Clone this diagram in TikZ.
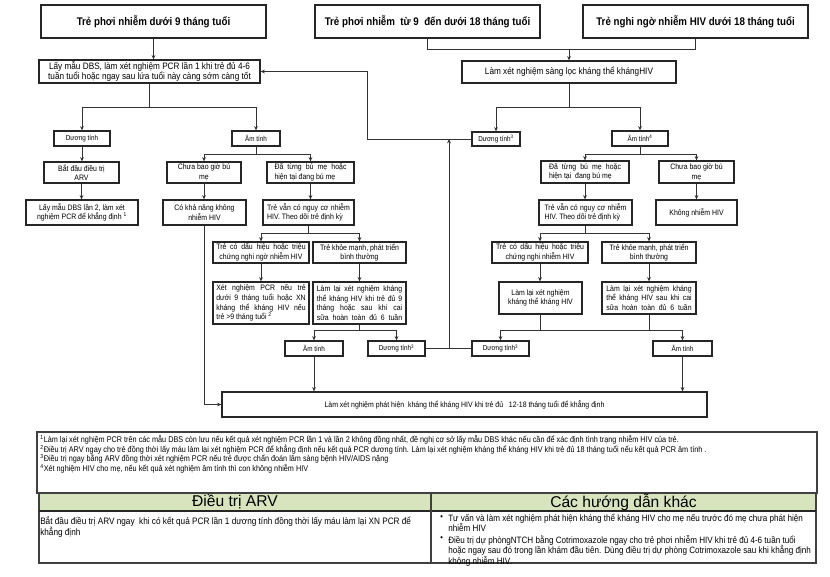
\documentclass[tikz,border=0pt]{standalone}
\usepackage{fontspec}
\setmainfont{Liberation Sans}
\newfontfamily\nf[FakeStretch=0.88]{Liberation Sans}
\usetikzlibrary{arrows.meta}
\newcommand\sm{\nf\fontsize{5.9pt}{7.3pt}\selectfont}
\newcommand\fsm{\nf\fontsize{6.2pt}{7.5pt}\selectfont}
\newcommand\bnode[7][]{\node[box,#1,minimum width={(#5-#3)*0.75pt},minimum height={(#6-#4)*0.75pt}] (#2) at ({(#3+#5)/2},{(#4+#6)/2}) {#7};}
\newcommand\sx[1]{\textsuperscript{#1}}
\tikzset{
  box/.style={draw=black!85, line width=0.95pt, inner sep=0.5pt, align=center, font=\sm, text=black},
  lbox/.style={box, align=left},
  lab/.style={box, font=\nf\fontsize{5.4pt}{6.5pt}\selectfont},
  big/.style={box, font=\nf\fontsize{7pt}{8pt}\selectfont},
  tbox/.style={box, line width=1.3pt, font=\nf\bfseries\fontsize{8.3pt}{10pt}\selectfont},
  ln/.style={draw=black!80, line width=0.75pt},
  arr/.style={ln, -{Stealth[length=3.2pt,width=2.8pt]}},
  fnote/.style={anchor=west, inner sep=0pt, font=\fsm, text=black},
  tabtxt/.style={anchor=west, inner sep=0pt, text=black, align=left},
  hdr/.style={inner sep=0pt, font=\fontsize{11.7pt}{14pt}\selectfont, text=black},
}
\begin{document}
\begin{tikzpicture}[x=0.75pt,y=-0.75pt]
\useasboundingbox (0,0) rectangle (830,576);
\fill[white] (0,0) rectangle (830,576);

% ---------- title boxes ----------
\bnode[tbox]{t1}{41}{5}{266}{38}{Trẻ phơi nhiễm dưới 9 tháng tuổi}
\bnode[tbox]{t2}{315}{5}{540}{38}{Trẻ phơi nhiễm\ \ từ 9\ \ đến dưới 18 tháng tuổi}
\bnode[tbox]{t3}{583}{5}{808}{38}{Trẻ nghi ngờ nhiễm HIV dưới 18 tháng tuổi}

% ---------- left branch ----------
\bnode[big]{dbs}{39}{60}{260}{83}{Lấy mẫu DBS, làm xét nghiệm PCR lần 1 khi trẻ đủ 4-6\\tuần tuổi hoặc ngay sau lứa tuổi này càng sớm càng tốt}
\bnode[lab]{pos1}{54}{131}{110}{146}{Dương tính}
\bnode[lab]{neg1}{232}{131}{280}{146}{Âm tính}
\bnode{start1}{44}{162}{119}{183}{Bắt đầu điều trị\\ARV}
\bnode{dbs2}{26}{200}{138}{225}{Lấy mẫu DBS lần 2, làm xét\\nghiệm PCR để khẳng định \sx{1}}
\bnode{never1}{167}{162}{241}{183}{Chưa bao giờ bú\\mẹ}
\bnode[lbox]{ever1}{267}{162}{354}{183}{\makebox[54pt][s]{Đã từng bú mẹ hoặc}\\hiện tại đang bú mẹ}
\bnode{likely1}{163}{200}{246}{225}{Có khả năng không\\nhiễm HIV}
\bnode[lbox]{risk1}{263}{200}{354}{225}{\makebox[62pt][s]{Trẻ vẫn có nguy cơ nhiễm}\\HIV. Theo dõi trẻ định kỳ}
\bnode{sym1}{213}{242}{309}{263}{\makebox[67pt][s]{Trẻ có dấu hiệu hoặc triệu}\\chứng nghi ngờ nhiễm HIV}
\bnode{healthy1}{313}{242}{406}{263}{Trẻ khỏe mạnh, phát triển\\bình thường}
\bnode{pcr1}{213}{282}{309}{324}{\makebox[67pt][s]{Xét nghiệm PCR nếu trẻ}\\\makebox[67pt][s]{dưới 9 tháng tuổi hoặc XN}\\\makebox[67pt][s]{kháng thể kháng HIV nếu}\\\makebox[67pt][l]{trẻ >9 tháng tuổi \sx{2}}}
\bnode{retest1}{313}{282}{406}{324}{\makebox[64pt][s]{Làm lại xét nghiệm kháng}\\\makebox[64pt][s]{thể kháng HIV khi trẻ đủ 9}\\\makebox[64pt][s]{tháng hoặc sau khi cai}\\\makebox[64pt][s]{sữa hoàn toàn đủ 6 tuần}}
\bnode[lab]{neg3}{285}{341}{343}{356}{Âm tính}
\bnode[lab]{pos3}{368}{341}{425}{356}{Dương tính\sx{3}}

% ---------- right branch ----------
\bnode[big]{screen}{462}{61}{676}{83}{Làm xét nghiệm sàng lọc kháng thể khángHIV}
\bnode[lab]{pos2}{472}{132}{520}{146}{Dương tính\sx{3}}
\bnode[lab]{neg2}{612}{131}{668}{146}{Âm tính\sx{4}}
\bnode[lbox]{ever2}{541}{161}{629}{183}{\makebox[54pt][s]{Đã từng bú mẹ hoặc}\\hiện tại\ \ đang bú mẹ}
\bnode{never2}{659}{161}{734}{183}{Chưa bao giờ bú\\mẹ}
\bnode[lbox]{risk2}{539}{200}{632}{225}{\makebox[61.5pt][s]{Trẻ vẫn có nguy cơ nhiễm}\\HIV. Theo dõi trẻ định kỳ}
\bnode{notinf}{656}{200}{737}{225}{Không nhiễm HIV}
\bnode{sym2}{492}{242}{588}{263}{\makebox[66pt][s]{Trẻ có dấu hiệu hoặc triệu}\\chứng nghi nhiễm HIV}
\bnode{healthy2}{602}{242}{696}{263}{Trẻ khỏe mạnh, phát triển\\bình thường}
\bnode{retest2}{499}{282}{582}{314}{Làm lại xét nghiệm\\kháng thể kháng HIV}
\bnode{retest3}{602}{282}{696}{314}{\makebox[64pt][s]{Làm lại xét nghiệm kháng}\\\makebox[64pt][s]{thể kháng HIV sau khi cai}\\\makebox[64pt][s]{sữa hoàn toàn đủ 6 tuần}}
\bnode[lab]{pos4}{472}{341}{529}{356}{Dương tính\sx{3}}
\bnode[lab]{neg4}{653}{341}{712}{356}{Âm tính}

% ---------- final ----------
\bnode{final}{222}{392}{707}{417}{Làm xét nghiệm phát hiện\ \ kháng thể kháng HIV khi trẻ đủ\ \ \ 12-18 tháng tuổi để khẳng định}

% ---------- junction coordinates ----------
\coordinate (kx) at (367,0);
\coordinate (mx) at (449,0);
\coordinate (h1) at (0,330);

% ---------- connectors: left ----------
\draw[arr] (t1.south) -- (t1.south |- dbs.north);
\draw[arr] (dbs.south) -- ++(0,24) -| (pos1.north);
\draw[arr] (dbs.south) -- ++(0,24) -| (neg1.north);
\draw[arr] (pos1.south) -- (pos1.south |- start1.north);
\draw[arr] (start1.south) -- (start1.south |- dbs2.north);
\draw[arr] (neg1.south) -- ++(0,8) -| (never1.north);
\draw[arr] (neg1.south) -- ++(0,8) -| (ever1.north);
\draw[arr] (never1.south) -- (never1.south |- likely1.north);
\draw[arr] (ever1.south) -- (ever1.south |- risk1.north);
\draw[arr] (likely1.south) |- (final.west);
\draw[arr] (risk1.south) -- ++(0,8) -| (sym1.north);
\draw[arr] (risk1.south) -- ++(0,8) -| (healthy1.north);
\draw[arr] (sym1.south) -- (sym1.south |- pcr1.north);
\draw[arr] (healthy1.south) -- (healthy1.south |- retest1.north);
\draw[arr] (retest1.south) -- (retest1.south |- h1) -| (neg3.north);
\draw[arr] (retest1.south) -- (retest1.south |- h1) -| (pos3.north);
\draw[arr] (neg3.south) -- (neg3.south |- final.north);

% ---------- connectors: right ----------
\draw[ln] (t2.south) -- ++(0,11) coordinate (j1) -| (t3.south);
\draw[arr] (j1 -| screen.north) -- (screen.north);
\draw[arr] (screen.south) -- ++(0,24) -| (pos2.north);
\draw[arr] (screen.south) -- ++(0,24) -| (neg2.north);
\draw[arr] (pos2.west) -- (pos2.west -| kx) |- (dbs.east);
\draw[arr] (neg2.south) -- ++(0,8) -| (ever2.north);
\draw[arr] (neg2.south) -- ++(0,8) -| (never2.north);
\draw[arr] (ever2.south) -- (ever2.south |- risk2.north);
\draw[arr] (never2.south) -- (never2.south |- notinf.north);
\draw[arr] (risk2.south) -- ++(0,8) -| (sym2.north);
\draw[arr] (risk2.south) -- ++(0,8) -| (healthy2.north);
\draw[arr] (sym2.south) -- (sym2.south |- retest2.north);
\draw[arr] (healthy2.south) -- (healthy2.south |- retest3.north);
\draw[ln] (retest2.south) -- (retest2.south |- h1);
\draw[ln] (retest3.south) -- (retest3.south |- h1);
\draw[arr] (retest2.south |- h1) -| (pos4.north);
\draw[arr] (retest3.south |- h1) -| (neg4.north);
\draw[ln] (retest2.south |- h1) -- (retest3.south |- h1);
\draw[arr] (neg4.south) -- (neg4.south |- final.north);

% ---------- positive loops ----------
\draw[ln] (pos3.east) -- (pos4.west);
\draw[arr] (pos3.east -| mx) -- (pos2.west -| mx);

% ---------- footnotes ----------
\draw[draw=black!75, line width=0.9pt] (37,432) rectangle (817,493);
\node[fnote] (fn1) at (40,440) {\sx{1}Làm lại xét nghiệm PCR trên các mẫu DBS còn lưu nếu kết quả xét nghiệm PCR lần 1 và lần 2 không đồng nhất, đề nghị cơ sở lấy mẫu DBS khác nếu cần để xác định tình trạng nhiễm HIV của trẻ.};
\node[fnote] (fn2) at (40,450) {\sx{2}Điều trị ARV ngay cho trẻ đồng thời lấy máu làm lại xét nghiệm PCR để khẳng định nếu kết quả PCR dương tính. Làm lại xét nghiệm kháng thể kháng HIV khi trẻ đủ 18 tháng tuổi nếu kết quả PCR âm tính .};
\node[fnote] (fn3) at (40,459) {\sx{3}Điều trị ngay bằng ARV đồng thời xét nghiệm PCR nếu trẻ được chẩn đoán lâm sàng bệnh HIV/AIDS nặng};
\node[fnote] (fn4) at (40,469) {\sx{4}Xét nghiệm HIV cho mẹ, nếu kết quả xét nghiệm âm tính thì con không nhiễm HIV};

% ---------- table ----------
\fill[fill={rgb,255:red,215;green,228;blue,189}] (39,493) rectangle (816,511);
\draw[draw=black!75, line width=0.9pt] (39,493) rectangle (816,563);
\draw[draw=black!85, line width=1.2pt] (39,511) -- (816,511);
\draw[draw=black!75, line width=0.9pt] (431,493) -- (431,563);
\node[hdr] (h1t) at (235,502) {Điều trị ARV};
\node[hdr] (h2t) at (623.5,502) {Các hướng dẫn khác};
\node[tabtxt, font=\nf\fontsize{7pt}{6.8pt}\selectfont] (c1) at (40,527) {Bắt đầu điều trị ARV ngay\ \ khi có kết quả PCR lần 1 dương tính đồng thời lấy máu làm lại XN PCR để\\khẳng định};
\node[fnote] (b1) at (440,518) {•};
\node[fnote] (b2) at (440,539) {•};
\node[tabtxt, anchor=north west, font=\nf\fontsize{6.9pt}{7.6pt}\selectfont] (c2) at (448,514) {Tư vấn và làm xét nghiệm phát hiện kháng thể kháng HIV cho mẹ nếu trước đó mẹ chưa phát hiện\\nhiễm HIV};
\node[tabtxt, anchor=north west, font=\nf\fontsize{6.9pt}{7.8pt}\selectfont] (c3) at (448,535) {Điều trị dự phòngNTCH bằng Cotrimoxazole ngay cho trẻ phơi nhiễm HIV khi trẻ đủ 4-6 tuần tuổi\\hoặc ngay sau đó trong lần khám đầu tiên. Dùng điều trị dự phòng Cotrimoxazole sau khi khẳng định\\không nhiễm HIV.};
\end{tikzpicture}
\end{document}
